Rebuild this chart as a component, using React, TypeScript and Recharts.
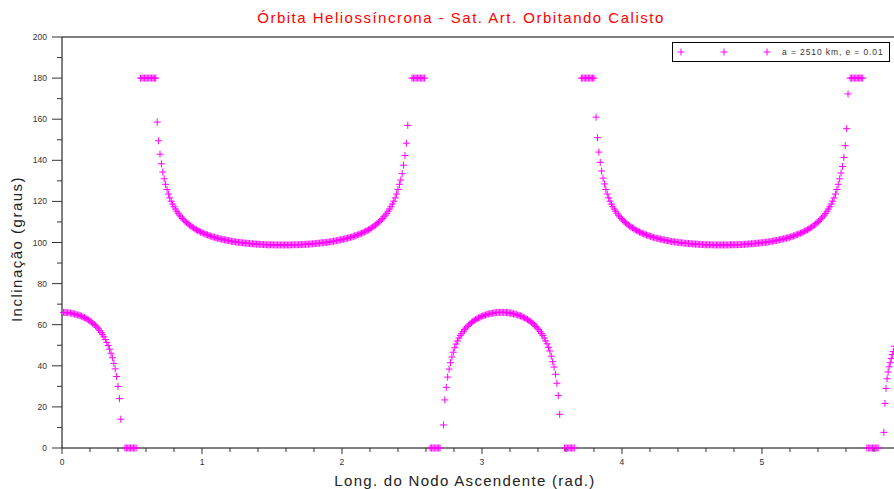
import { ReferenceLine, Scatter, ScatterChart, XAxis, YAxis } from "recharts";

// Inclination (deg), grouped by branch. x grid step is 0.01 rad
// unless noted otherwise in the segment table below.
const lowA = [
  66.0, 65.9, 65.9, 65.8, 65.8, 65.7, 65.5, 65.4, 65.2, 65.0, 64.8, 64.6, 64.4, 64.1,
  63.8, 63.5, 63.1, 62.7, 62.3, 61.8, 61.3, 60.7, 60.1, 59.5, 58.8, 58.0, 57.1, 56.2,
  55.2, 54.1, 52.8, 51.4, 49.9, 48.1, 46.1, 43.9, 41.2, 38.5, 34.8, 30.0, 24.0, 14.0,
];
const zerosA = [0, 0, 0, 0, 0, 0, 0, 0, 0];
const polesA = [180, 180, 180, 180, 180, 180, 180, 180, 180, 180, 180, 180];
const highA = [
  158.6, 149.5, 143.0, 138.3, 134.3, 131.0, 128.3, 125.8, 123.6, 121.7,
  120.1, 118.7, 117.4, 116.3, 115.2, 114.2, 113.3, 112.5, 111.7, 111.0,
  110.3, 109.7, 109.1, 108.5, 108.0, 107.5, 107.1, 106.6, 106.2, 105.8,
  105.5, 105.1, 104.8, 104.5, 104.2, 103.9, 103.7, 103.4, 103.2, 102.9,
  102.7, 102.5, 102.3, 102.1, 102.0, 101.8, 101.6, 101.5, 101.3, 101.2,
  101.0, 100.9, 100.8, 100.6, 100.5, 100.4, 100.3, 100.2, 100.1, 100.0,
  99.9, 99.9, 99.8, 99.7, 99.6, 99.6, 99.5, 99.4, 99.4, 99.3,
  99.3, 99.2, 99.2, 99.1, 99.1, 99.0, 99.0, 99.0, 98.9, 98.9,
  98.9, 98.9, 98.9, 98.9, 98.8, 98.8, 98.8, 98.8, 98.8, 98.8,
  98.8, 98.8, 98.8, 98.8, 98.8, 98.8, 98.9, 98.9, 98.9, 98.9,
  98.9, 98.9, 99.0, 99.0, 99.0, 99.1, 99.1, 99.2, 99.2, 99.3,
  99.3, 99.4, 99.4, 99.5, 99.6, 99.6, 99.7, 99.8, 99.9, 99.9,
  100.0, 100.1, 100.2, 100.3, 100.4, 100.5, 100.6, 100.8, 100.9, 101.0,
  101.2, 101.3, 101.5, 101.6, 101.8, 102.0, 102.1, 102.3, 102.5, 102.7,
  102.9, 103.2, 103.4, 103.7, 103.9, 104.2, 104.5, 104.8, 105.1, 105.5,
  105.8, 106.2, 106.6, 107.1, 107.5, 108.0, 108.5, 109.1, 109.7, 110.3,
  111.0, 111.7, 112.5, 113.3, 114.2, 115.2, 116.3, 117.4, 118.7, 120.1,
  121.7, 123.6, 125.8, 128.3, 130.4, 133.5, 137.6, 142.3, 148.3, 157.0,
];
const polesB = [180, 180, 180, 180, 180, 180, 180, 180, 180, 180];
const zerosB = [0, 0, 0, 0, 0, 0, 0, 0];
const lowB = [
  11.2, 23.4, 29.5, 34.5, 38.4, 41.5, 44.3, 46.6, 48.8, 50.6,
  52.1, 53.5, 54.7, 55.7, 56.7, 57.6, 58.4, 59.2, 59.8, 60.5,
  61.0, 61.6, 62.1, 62.5, 62.9, 63.3, 63.6, 64.0, 64.3, 64.5,
  64.7, 65.0, 65.2, 65.3, 65.5, 65.6, 65.7, 65.8, 65.9, 66.0, 66.0, 66.0,
  66.0, 66.0, 66.0, 65.9, 65.8, 65.7, 65.6, 65.5, 65.3, 65.2,
  65.0, 64.7, 64.5, 64.3, 64.0, 63.6, 63.3, 62.9, 62.5, 62.1,
  61.6, 61.0, 60.5, 59.8, 59.2, 58.4, 57.6, 56.7, 55.7, 54.7,
  53.5, 52.1, 50.7, 49.0, 47.2, 44.7, 42.0, 39.4, 35.9, 31.5, 25.5, 16.4,
];
const zerosC = [0, 0, 0, 0, 0, 0, 0, 0];
const polesC = [180, 180, 180, 180, 180, 180, 180, 180, 180, 180];
const highB = [
  161.0, 151.0, 144.0, 139.0, 134.8, 131.3, 128.5, 125.8, 123.6, 121.7,
  120.1, 118.7, 117.4, 116.3, 115.2, 114.2, 113.3, 112.5, 111.7, 111.0,
  110.3, 109.7, 109.1, 108.5, 108.0, 107.5, 107.1, 106.6, 106.2, 105.8,
  105.5, 105.1, 104.8, 104.5, 104.2, 103.9, 103.7, 103.4, 103.2, 102.9,
  102.7, 102.5, 102.3, 102.1, 102.0, 101.8, 101.6, 101.5, 101.3, 101.2,
  101.0, 100.9, 100.8, 100.6, 100.5, 100.4, 100.3, 100.2, 100.1, 100.0,
  99.9, 99.9, 99.8, 99.7, 99.6, 99.6, 99.5, 99.4, 99.4, 99.3,
  99.3, 99.2, 99.2, 99.1, 99.1, 99.0, 99.0, 99.0, 98.9, 98.9,
  98.9, 98.9, 98.9, 98.9, 98.8, 98.8, 98.8, 98.8, 98.8, 98.8,
  98.8, 98.8, 98.8, 98.8, 98.8, 98.8, 98.9, 98.9, 98.9, 98.9,
  98.9, 98.9, 99.0, 99.0, 99.0, 99.1, 99.1, 99.2, 99.2, 99.3,
  99.3, 99.4, 99.4, 99.5, 99.6, 99.6, 99.7, 99.8, 99.9, 99.9,
  100.0, 100.1, 100.2, 100.3, 100.4, 100.5, 100.6, 100.8, 100.9, 101.0,
  101.2, 101.3, 101.5, 101.6, 101.8, 102.0, 102.1, 102.3, 102.5, 102.7,
  102.9, 103.2, 103.4, 103.7, 103.9, 104.2, 104.5, 104.8, 105.1, 105.5,
  105.8, 106.2, 106.6, 107.1, 107.5, 108.0, 108.5, 109.1, 109.7, 110.3,
  111.0, 111.7, 112.5, 113.3, 114.2, 115.2, 116.3, 117.4, 118.7, 120.1,
  121.7, 123.6, 125.8, 128.3, 131.0, 133.8, 137.0, 141.4, 147.1, 155.4, 172.3,
];
const polesD = [180, 180, 180, 180, 180, 180, 180, 180, 180, 180];
const zerosD = [0, 0, 0, 0, 0, 0, 0, 0, 0];
const lowC = [7.6, 21.7, 29.0, 33.7, 37.0, 39.5, 41.5, 43.5, 45.5, 47.0, 49.5];

// where each run starts on the x axis (rad) and its spacing
const segments = [
  { x0: 0.01, step: 0.01, ys: lowA },
  { x0: 0.45, step: 0.01, ys: zerosA },
  { x0: 0.56, step: 0.01, ys: polesA },
  { x0: 0.68, step: 0.01, ys: highA },
  { x0: 2.5, step: 0.01, ys: polesB },
  { x0: 2.63, step: 0.01, ys: zerosB },
  { x0: 2.725, step: 0.01, ys: lowB },
  { x0: 3.59, step: 0.01, ys: zerosC },
  { x0: 3.71, step: 0.01, ys: polesC },
  { x0: 3.815, step: 0.01, ys: highB },
  { x0: 5.63, step: 0.01, ys: polesD },
  { x0: 5.75, step: 0.01, ys: zerosD },
  { x0: 5.871, step: 0.0075, ys: lowC },
];

const xTicks = [
  0, 0.2, 0.4, 0.6, 0.8, 1, 1.2, 1.4, 1.6, 1.8, 2, 2.2, 2.4, 2.6, 2.8, 3, 3.2, 3.4,
  3.6, 3.8, 4, 4.2, 4.4, 4.6, 4.8, 5, 5.2, 5.4, 5.6, 5.8,
];
const yTicks = [
  0, 10, 20, 30, 40, 50, 60, 70, 80, 90, 100, 110, 120, 130, 140, 150, 160, 170, 180,
  190, 200,
];

const TWO_PI = 6.283185;
const FONT = "'Liberation Sans', Arial, sans-serif";
const MAGENTA = "#ff00ff";

const points = segments.flatMap((s) =>
  s.ys.map((y, i) => ({ x: +(s.x0 + i * s.step).toFixed(4), y })),
);

function Plus(props: any) {
  const { cx, cy } = props;
  if (cx == null || cy == null) return null;
  return (
    <path
      d={`M${cx - 3.5},${cy}h7M${cx},${cy - 3.5}v7`}
      stroke={MAGENTA}
      strokeWidth={1}
      fill="none"
    />
  );
}

function XTick(props: any) {
  const { x, y, payload } = props;
  const v = payload.value as number;
  const major = Math.abs(v - Math.round(v)) < 1e-6;
  return (
    <g>
      <line x1={x} x2={x} y1={y} y2={y + (major ? 6 : 4)} stroke="#333" />
      {major && (
        <text x={x} y={y + 17} textAnchor="middle" fontSize={8.5} fill="#333" fontFamily={FONT}>
          {Math.round(v)}
        </text>
      )}
    </g>
  );
}

function YTick(props: any) {
  const { x, y, payload } = props;
  const v = payload.value as number;
  const major = v % 20 === 0;
  return (
    <g>
      <line x1={x} x2={x - (major ? 10 : 5)} y1={y} y2={y} stroke="#333" />
      {major && (
        <text x={x - 15} y={y + 3} textAnchor="end" fontSize={8.5} fill="#333" fontFamily={FONT}>
          {v}
        </text>
      )}
    </g>
  );
}

export default function App() {
  return (
    <div
      style={{
        position: "absolute",
        left: 0,
        top: 0,
        width: 894,
        height: 489,
        overflow: "hidden",
        background: "#fff",
      }}
    >
      <ScatterChart width={950} height={489} margin={{ top: 37, right: 8.4, bottom: 0, left: 0 }}>
        <XAxis
          dataKey="x"
          type="number"
          domain={[0, TWO_PI]}
          ticks={xTicks}
          interval={0}
          height={41}
          tickSize={0}
          tickMargin={0}
          tickLine={false}
          tick={<XTick />}
          axisLine={{ stroke: "#000" }}
        />
        <YAxis
          dataKey="y"
          type="number"
          domain={[0, 200]}
          ticks={yTicks}
          interval={0}
          width={62}
          tickSize={0}
          tickMargin={0}
          tickLine={false}
          tick={<YTick />}
          axisLine={{ stroke: "#000" }}
        />
        <ReferenceLine y={200} stroke="#000" />
        <Scatter data={points} shape={<Plus />} isAnimationActive={false} />
      </ScatterChart>

      <svg
        width={894}
        height={489}
        style={{ position: "absolute", left: 0, top: 0, pointerEvents: "none" }}
        fontFamily={FONT}
      >
        <text x={461} y={23} textAnchor="middle" fontSize={15} fill="#ff0000" letterSpacing={1.5}>
          Órbita Heliossíncrona - Sat. Art. Orbitando Calisto
        </text>
        <text x={465} y={486} textAnchor="middle" fontSize={15} fill="#222" letterSpacing={1.3}>
          Long. do Nodo Ascendente (rad.)
        </text>
        <text
          transform="translate(22,249) rotate(-90)"
          textAnchor="middle"
          fontSize={15}
          fill="#222"
          letterSpacing={1.5}
        >
          Inclinação (graus)
        </text>
        <rect x={672.5} y={42.5} width={217} height={19} fill="#fff" stroke="#000" />
        {[681, 724, 767].map((cx) => (
          <path key={cx} d={`M${cx - 3.5},52h7M${cx},48.5v7`} stroke={MAGENTA} fill="none" />
        ))}
        <text x={782} y={55} fontSize={8.5} fill="#333" letterSpacing={0.9}>
          a = 2510 km, e = 0.01
        </text>
      </svg>
    </div>
  );
}
